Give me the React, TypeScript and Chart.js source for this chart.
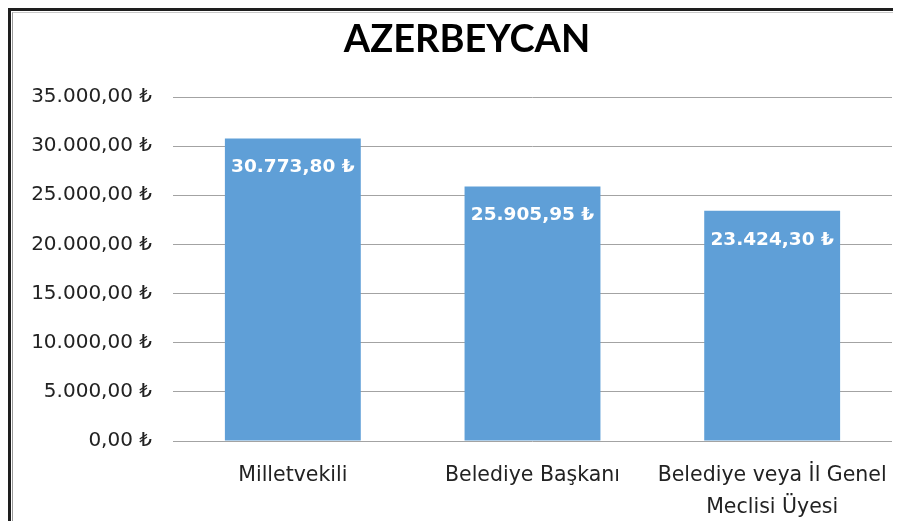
import React, { useEffect, useRef } from "react";
import { Chart, registerables } from "chart.js";

Chart.register(...registerables);

const titleText = "AZERBEYCAN";
const categories: (string | string[])[] = [
  "Milletvekili",
  "Belediye Başkanı",
  ["Belediye veya İl Genel", "Meclisi Üyesi"],
];
const values: number[] = [30773.8, 25905.95, 23424.3];
const yMin = 0;
const yMax = 35000;
const yStep = 5000;

const TITLE_FONT = "Lato, 'DejaVu Sans', sans-serif";
const FONT = "'DejaVu Sans', sans-serif";

function fmtTL(v: number): string {
  const fixed = Math.abs(v).toFixed(2);
  const [intPart, dec] = fixed.split(".");
  const withDots = intPart.replace(/\B(?=(\d{3})+(?!\d))/g, ".");
  return (v < 0 ? "-" : "") + withDots + "," + dec + " ₺";
}

const labelPlugin = {
  id: "barLabels",
  afterDatasetsDraw(chart: any) {
    const ctx = chart.ctx;
    const meta = chart.getDatasetMeta(0);
    ctx.save();
    ctx.fillStyle = "#ffffff";
    ctx.font = `bold 18.5px ${FONT}`;
    ctx.textAlign = "center";
    ctx.textBaseline = "middle";
    meta.data.forEach((bar: any, i: number) => {
      ctx.fillText(fmtTL(values[i]), bar.x, bar.y + 29);
    });
    ctx.restore();
  },
};

const titlePlugin = {
  id: "chartTitle",
  afterDraw(chart: any) {
    const ctx = chart.ctx;
    ctx.save();
    ctx.fillStyle = "#000000";
    ctx.font = `bold 38px ${TITLE_FONT}`;
    ctx.textAlign = "center";
    ctx.textBaseline = "middle";
    ctx.fillText(titleText, 454, 27);
    ctx.restore();
  },
};

export default function App() {
  const ref = useRef<HTMLCanvasElement | null>(null);
  useEffect(() => {
    if (!ref.current) return;
    const chart = new Chart(ref.current, {
      type: "bar",
      data: {
        labels: categories,
        datasets: [
          {
            data: values,
            backgroundColor: "#5f9fd7",
            borderWidth: 0,
            barPercentage: 0.567,
            categoryPercentage: 1,
          },
        ],
      },
      options: {
        responsive: false,
        animation: false,
        layout: { padding: { left: 8, right: 9, top: 84, bottom: 0 } },
        plugins: {
          legend: { display: false },
          tooltip: { enabled: false },
          title: { display: false },
        },
        scales: {
          x: {
            grid: { display: false },
            border: { display: false },
            ticks: {
              color: "#222222",
              font: { family: FONT, size: 20.5, lineHeight: 1.55 },
              padding: 11,
              maxRotation: 0,
              autoSkip: false,
            },
            afterFit: (s: any) => {
              s.height = 80;
            },
          },
          y: {
            min: yMin,
            max: yMax,
            grid: { color: "#a3a3a3", drawTicks: false, lineWidth: 1 },
            border: { display: false },
            ticks: {
              stepSize: yStep,
              color: "#222222",
              font: { family: FONT, size: 20 },
              padding: 21,
              callback: (v: any) => fmtTL(Number(v)),
            },
            afterFit: (s: any) => {
              s.width = 152;
            },
          },
        },
      },
      plugins: [labelPlugin, titlePlugin],
    });
    return () => chart.destroy();
  }, []);

  return (
    <div style={{ position: "relative", width: 893, height: 513, overflow: "hidden", background: "#fff" }}>
      <div
        style={{
          position: "absolute",
          left: 0,
          top: 0,
          right: 0,
          bottom: 0,
          borderLeft: "3px solid #1e1e1e",
          borderTop: "3px solid #1e1e1e",
        }}
      />
      <div
        style={{
          position: "absolute",
          left: 4,
          top: 4,
          right: 0,
          bottom: 0,
          borderLeft: "1px solid #9a9a9a",
          borderTop: "1px solid #c8c8c8",
        }}
      />
      <div style={{ position: "absolute", left: 5, top: 5, width: 888, height: 508 }}>
        <canvas ref={ref} width={888} height={508} />
      </div>
    </div>
  );
}
